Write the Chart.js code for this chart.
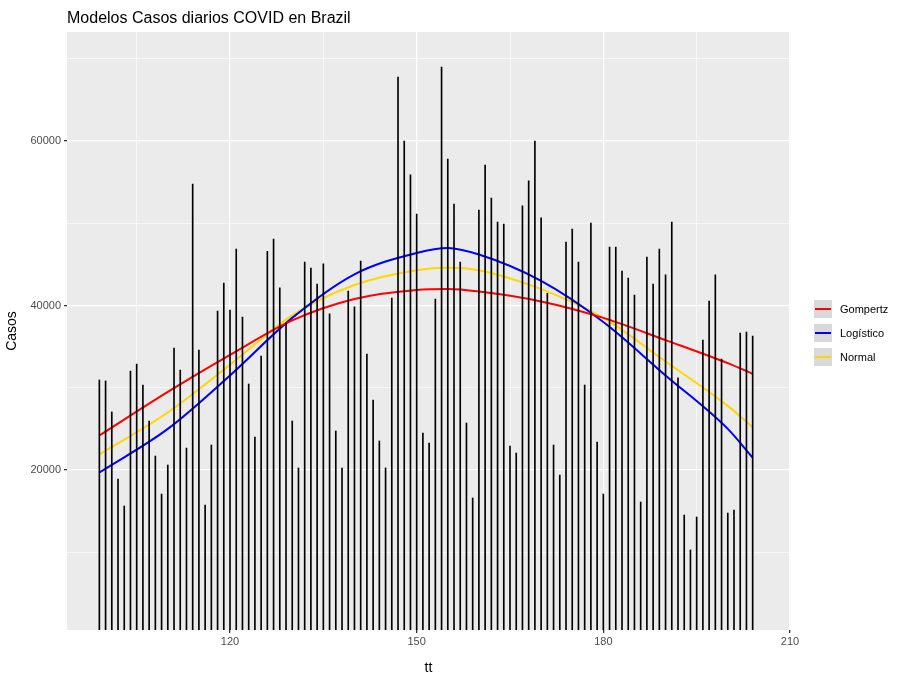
<!DOCTYPE html>
<html>
<head>
<meta charset="utf-8">
<script src="https://cdn.jsdelivr.net/npm/chart.js@4"></script>
<style>
  html, body { margin: 0; padding: 0; background: #fff; }
  #wrap { width: 905px; height: 681px; }
</style>
</head>
<body>
<div id="wrap"><canvas id="chart" width="905" height="681"></canvas></div>
<script>
// daily cases, tt = 99 .. 204
const firstDay = 99;
const casos = [
  30950, 30830, 27060, 18910, 15630, 32040, 32890, 30340, 25960, 21700,
  17080, 20610, 34840, 32160, 22670, 54780, 34600, 15750, 23040, 39340,
  42740, 39460, 46880, 38610, 30460, 24020, 33870, 46600, 48090, 42140,
  37880, 25960, 20250, 45300, 44570, 42620, 45060, 38980, 24750, 20250,
  41770, 39830, 45420, 34110, 28520, 23530, 20250, 40920, 67790, 60010,
  55880, 51130, 24500, 23290, 40800, 69000, 57820, 52350, 45300, 25720,
  16600, 51620, 57090, 53080, 50160, 49920, 22920, 22070, 52110, 55150,
  60010, 50650, 41500, 23040, 19390, 47730, 49310, 45300, 30340, 50040,
  23410, 17080, 47120, 47120, 44200, 43350, 41280, 16110, 45900, 42620,
  46880, 43720, 50160, 31200, 14530, 10280, 14290, 35810, 40550, 43720,
  33500, 14770, 15140, 36660, 36780, 36290
];
const tt = casos.map((_, i) => firstDay + i);

// fitted curves
const curveTT   = [99, 110, 120, 130, 140, 150, 155, 160, 170, 180, 190, 200, 204];
const gompertz  = [24200, 29500, 34000, 38200, 40800, 41900, 42000, 41700, 40500, 38500, 35800, 33000, 31700];
const logistico = [19700, 25000, 31500, 38500, 43800, 46400, 47000, 46200, 43000, 38000, 31500, 25000, 21500];
const normal    = [21900, 27000, 32800, 38800, 42500, 44300, 44600, 44300, 42000, 38500, 33200, 27800, 25200];

const xTicks = [105, 120, 135, 150, 165, 180, 195, 210];
const xMajor = [120, 150, 180, 210];
const yTicks = [10000, 20000, 30000, 40000, 50000, 60000, 70000];
const yMajor = [20000, 40000, 60000];

const FONT = '"Liberation Sans", Arial, sans-serif';

const toXY = (xs, ys) => xs.map((x, i) => ({ x: x, y: ys[i] }));

const panelBg = {
  id: 'panelBg',
  beforeDraw(chart) {
    const a = chart.chartArea, c = chart.ctx;
    c.save();
    c.fillStyle = '#EBEBEB';
    c.fillRect(a.left, a.top, a.right - a.left, a.bottom - a.top);
    c.restore();
  }
};

const ggLegend = {
  id: 'ggLegend',
  afterDraw(chart) {
    const c = chart.ctx;
    c.save();
    c.font = '11px ' + FONT;
    c.textBaseline = 'middle';
    chart.data.datasets.forEach((ds, i) => {
      if (ds.type !== 'line') return;
      const k = i - 1;
      const top = 300 + k * 24;
      c.fillStyle = '#D9D9D9';
      c.fillRect(814, top, 18, 18);
      c.strokeStyle = ds.borderColor;
      c.lineWidth = 2;
      c.beginPath();
      c.moveTo(815, top + 9);
      c.lineTo(831, top + 9);
      c.stroke();
      c.fillStyle = '#000';
      c.fillText(ds.label, 840, top + 10);
    });
    c.fillStyle = '#000';
    c.font = '16px ' + FONT;
    c.textBaseline = 'alphabetic';
    c.fillText('Modelos Casos diarios COVID en Brazil', 67, 23);
    c.restore();
  }
};

new Chart(document.getElementById('chart'), {
  data: {
    datasets: [
      { type: 'bar', label: 'Casos', data: toXY(tt, casos), backgroundColor: '#000',
        barThickness: 1, categoryPercentage: 1, barPercentage: 1 },
      { type: 'line', label: 'Gompertz', data: toXY(curveTT, gompertz), borderColor: '#FF0000',
        borderWidth: 2, pointRadius: 0, cubicInterpolationMode: 'monotone', fill: false },
      { type: 'line', label: 'Logístico', data: toXY(curveTT, logistico), borderColor: '#0000FF',
        borderWidth: 2, pointRadius: 0, cubicInterpolationMode: 'monotone', fill: false },
      { type: 'line', label: 'Normal', data: toXY(curveTT, normal), borderColor: '#FFD700',
        borderWidth: 2, pointRadius: 0, cubicInterpolationMode: 'monotone', fill: false }
    ]
  },
  options: {
    responsive: false,
    animation: false,
    layout: { padding: { top: 32, right: 115, left: 0, bottom: 0 } },
    plugins: { legend: { display: false }, tooltip: { enabled: false } },
    scales: {
      x: {
        type: 'linear', min: 93.8, max: 210, offset: false,
        afterBuildTicks: s => { s.ticks = xTicks.map(v => ({ value: v })); },
        afterFit: s => { s.height = 51; },
        border: { display: false },
        grid: {
          offset: false,
          color: '#FFFFFF',
          lineWidth: ctx => xMajor.includes(ctx.tick && ctx.tick.value) ? 1.3 : 0.6,
          tickColor: ctx => xMajor.includes(ctx.tick && ctx.tick.value) ? '#333333' : 'rgba(0,0,0,0)',
          tickLength: 3
        },
        ticks: {
          autoSkip: false, maxRotation: 0, color: '#4D4D4D', font: { family: FONT, size: 11 }, padding: 2,
          callback: v => xMajor.includes(v) ? String(v) : ''
        },
        title: { display: true, text: 'tt', color: '#000', font: { family: FONT, size: 14 }, padding: { top: 2 } }
      },
      y: {
        type: 'linear', min: 550, max: 73260,
        afterBuildTicks: s => { s.ticks = yTicks.map(v => ({ value: v })); },
        afterFit: s => { s.width = 67; },
        border: { display: false },
        grid: {
          color: '#FFFFFF',
          lineWidth: ctx => yMajor.includes(ctx.tick && ctx.tick.value) ? 1.3 : 0.6,
          tickColor: ctx => yMajor.includes(ctx.tick && ctx.tick.value) ? '#333333' : 'rgba(0,0,0,0)',
          tickLength: 3
        },
        ticks: {
          autoSkip: false, color: '#4D4D4D', font: { family: FONT, size: 11 }, padding: 3,
          callback: v => yMajor.includes(v) ? String(v) : ''
        },
        title: { display: true, text: 'Casos', color: '#000', font: { family: FONT, size: 14 }, padding: { bottom: 4 } }
      }
    }
  },
  plugins: [panelBg, ggLegend]
});
</script>
</body>
</html>
